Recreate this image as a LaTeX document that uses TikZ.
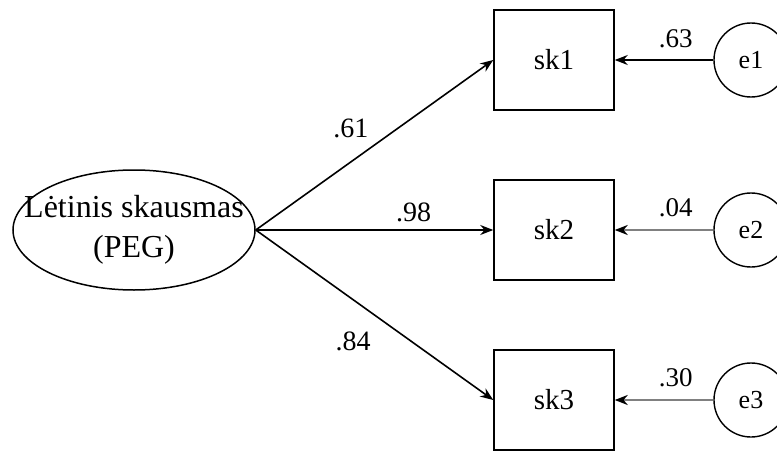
\documentclass[tikz,border=0pt]{standalone}
\usepackage{fontspec}
\setmainfont{Liberation Serif}
\usetikzlibrary{shapes.geometric,arrows.meta}

\begin{document}
\begin{tikzpicture}[x=1pt,y=-1pt,
    latent/.style={draw,ellipse,line width=1.5pt,minimum width=242pt,minimum height=120pt,
        inner xsep=-40pt,inner ysep=-20pt,align=center,font=\fontsize{32}{40}\selectfont},
    manifest/.style={draw,rectangle,line width=1.5pt,minimum width=120pt,minimum height=100pt,
        font=\fontsize{29}{32}\selectfont},
    errvar/.style={draw,circle,line width=1.4pt,minimum size=74pt,inner sep=0pt,
        font=\fontsize{26}{30}\selectfont},
    loading/.style={-{Stealth[length=13pt,width=10pt]},line width=1.6pt},
    errpath/.style={-{Stealth[length=13pt,width=10pt,black]},line width=2.6pt,draw=black!50},
    coef/.style={font=\fontsize{28}{30}\selectfont},
    errcoef/.style={font=\fontsize{27}{30}\selectfont}
    ]
    \useasboundingbox (0,0) rectangle (777,452);

    % latente Variable:
    \node[latent] (peg) at (134,230) {L\.etinis skausmas\\(PEG)};

    % Indikatoren:
    \node[manifest] (sk1) at (554,60) {sk1};
    \node[manifest] (sk2) at (554,230) {sk2};
    \node[manifest] (sk3) at (554,400) {sk3};

    % Fehlerterme:
    \node[errvar] (e1) at (751,60) {e1};
    \node[errvar] (e2) at (751,230) {e2};
    \node[errvar] (e3) at (751,400) {e3};

    % Ladungen:
    \draw[loading] (peg.east) -- (sk1.west)
        node[coef, pos=0.4, above=20pt] {.61}
        ;
    \draw[loading] (peg.east) -- (sk2.west)
        node[coef, pos=0.665, above=4pt] {.98}
        ;
    \draw[loading] (peg.east) -- (sk3.west)
        node[coef, pos=0.41, below=28pt] {.84}
        ;

    % Fehlerpfade:
    \draw[loading] (e1.west) -- (sk1.east)
        node[errcoef, pos=0.38, above=8pt] {.63}
        ;
    \draw[errpath] (e2.west) -- (sk2.east)
        node[errcoef, pos=0.38, above=8pt, text=black] {.04}
        ;
    \draw[errpath] (e3.west) -- (sk3.east)
        node[errcoef, pos=0.38, above=8pt, text=black] {.30}
        ;
\end{tikzpicture}
\end{document}
